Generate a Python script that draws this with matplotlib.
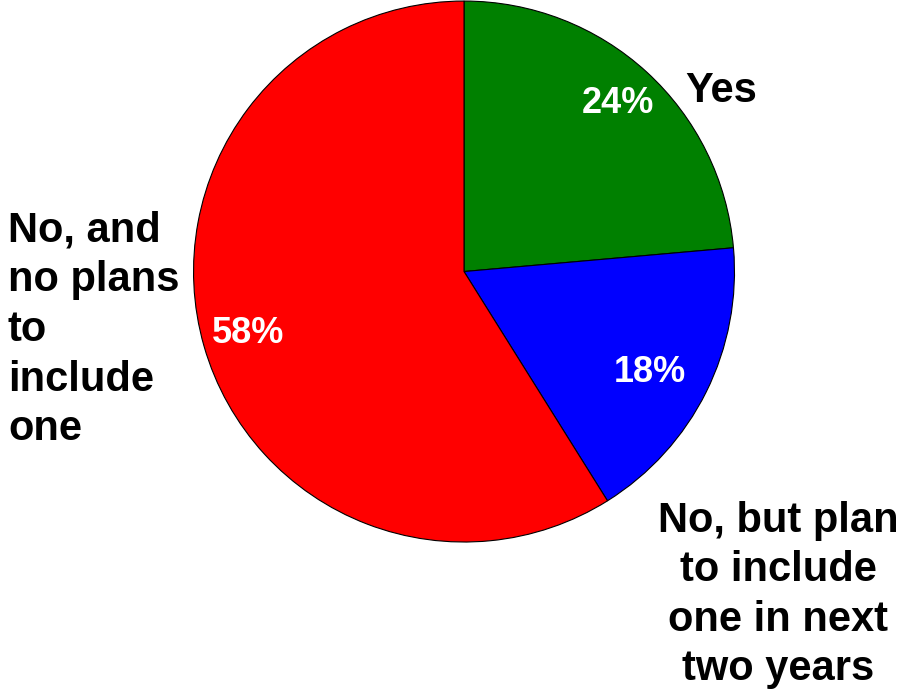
import matplotlib
matplotlib.use("Agg")
import matplotlib.pyplot as plt
import numpy as np

categories = ["Yes", "No, but plan\nto include\none in next\ntwo years", "No, and\nno plans\nto\ninclude\none"]
values = [23.6, 17.5, 58.9]
pct_labels = ["24%", "18%", "58%"]
colors = ["#008000", "#0000FF", "#FF0000"]

plt.rcParams['font.family'] = ['Liberation Sans', 'DejaVu Sans']

fig = plt.figure(figsize=(9.01, 6.91), dpi=100)
ax = fig.add_axes([0.2148, 0.2156, 0.6004, 0.7829])
wedges, texts = ax.pie(values, colors=colors, startangle=90, counterclock=False,
                       wedgeprops=dict(edgecolor="black", linewidth=0.8),
                       radius=1.0)[:2]
pct_dist = [0.84, 0.78, 0.83]
pct_shift = [0.0, -2.0, 0.0]
for w, lab, d, s in zip(wedges, pct_labels, pct_dist, pct_shift):
    mid = np.deg2rad((w.theta1 + w.theta2) / 2 + s)
    ax.text(d * np.cos(mid), d * np.sin(mid), lab, ha="center", va="center",
            color="white", fontsize=26, fontweight="bold")
ax.set_xlim(-1, 1)
ax.set_ylim(-1, 1)
ax.set_aspect("auto")
ax.axis("off")

fig.text(685 / 901, 1 - 91 / 691, categories[0], ha="left", va="center",
         fontsize=30, fontweight="bold")
fig.text(778 / 901, 1 - 595 / 691, categories[1], ha="center", va="center",
         fontsize=30, fontweight="bold", multialignment="center", linespacing=1.31)
fig.text(8 / 901, 1 - 330 / 691, categories[2], ha="left", va="center",
         fontsize=30, fontweight="bold", multialignment="left", linespacing=1.31)

fig.savefig("out.png", dpi=100)
